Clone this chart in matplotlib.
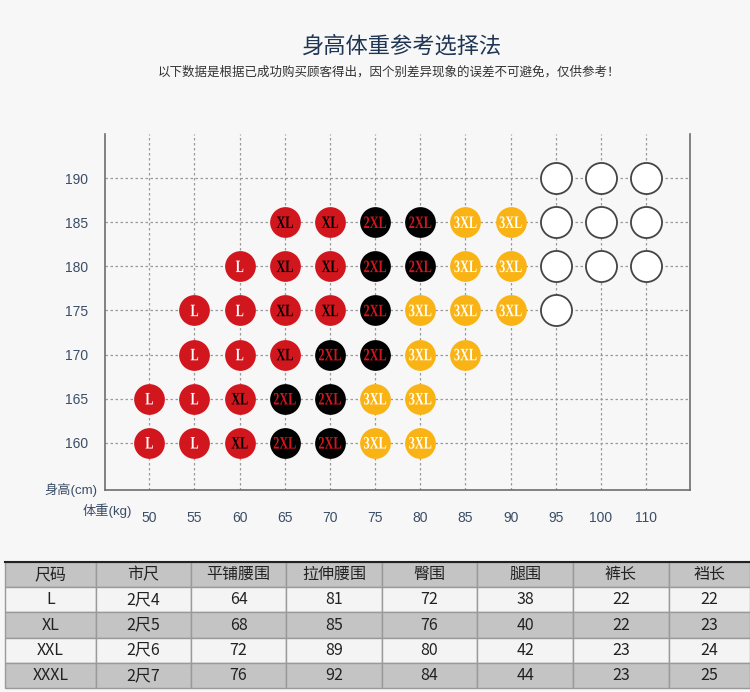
"""Size chart: height/weight bubble grid plus a measurement table."""

import matplotlib

matplotlib.use("Agg")
import matplotlib.pyplot as plt  # noqa: E402
from matplotlib import transforms as mtransforms  # noqa: E402
from matplotlib.font_manager import FontProperties  # noqa: E402
from matplotlib.patches import PathPatch  # noqa: E402
from matplotlib.textpath import TextPath  # noqa: E402

plt.rcParams["font.family"] = ["Liberation Sans", "Noto Sans CJK SC", "DejaVu Sans"]

# data
weights = ["50", "55", "60", "65", "70", "75", "80", "85", "90", "95", "100", "110"]
heights = ["160", "165", "170", "175", "180", "185", "190"]
# one row per height (bottom to top), one entry per weight; "O" = empty circle
size_grid = [
    ["L", "L", "XL", "2XL", "2XL", "3XL", "3XL", "", "", "", "", ""],
    ["L", "L", "XL", "2XL", "2XL", "3XL", "3XL", "", "", "", "", ""],
    ["", "L", "L", "XL", "2XL", "2XL", "3XL", "3XL", "", "", "", ""],
    ["", "L", "L", "XL", "XL", "2XL", "3XL", "3XL", "3XL", "O", "", ""],
    ["", "", "L", "XL", "XL", "2XL", "2XL", "3XL", "3XL", "O", "O", "O"],
    ["", "", "", "XL", "XL", "2XL", "2XL", "3XL", "3XL", "O", "O", "O"],
    ["", "", "", "", "", "", "", "", "", "O", "O", "O"],
]

table_header = ["尺码", "市尺", "平铺腰围", "拉伸腰围", "臀围", "腿围", "裤长", "裆长"]
table_sizes = ["L", "XL", "XXL", "XXXL"]
table_shichi = ["2尺4", "2尺5", "2尺6", "2尺7"]
flat_waist = [64, 68, 72, 76]
stretch_waist = [81, 85, 89, 92]
hip = [72, 76, 80, 84]
thigh = [38, 40, 42, 44]
pants_len = [22, 22, 23, 23]
rise = [22, 23, 24, 25]

# styles
BG = "#f7f7f7"
RED = "#d2161e"
YELLOW = "#f9b314"
TICK = "#3b4d66"
GRID = "#9a9a9a"
STYLE = {  # face, text colour, edge
    "L": (RED, "white", RED),
    "XL": (RED, "black", RED),
    "2XL": ("black", RED, "black"),
    "3XL": (YELLOW, "white", YELLOW),
    "O": ("white", "white", "#444444"),
}
LABEL_FONT = FontProperties(family="Liberation Serif", weight="bold")

W, H = 750, 692
fig = plt.figure(figsize=(7.5, 6.92), dpi=100)
fig.patch.set_facecolor(BG)

fig.text(401 / W, 1 - 46 / H, "身高体重参考选择法", ha="center", va="center",
         fontsize=16, color="#1e3553", fontweight="medium",
         family=["Noto Sans CJK SC"])
fig.text(389 / W, 1 - 72 / H, "以下数据是根据已成功购买顾客得出，因个别差异现象的误差不可避免，仅供参考！",
         ha="center", va="center", fontsize=9, color="#333333",
         family=["Noto Sans CJK SC"])

# bubble grid
ax = fig.add_axes([105 / W, 1 - 490 / H, (690 - 105) / W, (490 - 134) / H])
ax.set_facecolor(BG)
ax.set_xlim(-0.98, 11.97)
ax.set_ylim(-1.07, 7.0)

for i in range(len(weights)):
    ax.axvline(i, color=GRID, lw=0.9, ls=(0, (2, 2)), zorder=1)
for j in range(len(heights)):
    ax.axhline(j, color=GRID, lw=0.9, ls=(0, (2, 2)), zorder=1)


def circle_label(x, y, label, colour):
    # condensed serif label: text path squeezed horizontally, sized in pixels
    tp = TextPath((0, 0), label, size=17.5, prop=LABEL_FONT)
    bb = tp.get_extents()
    tr = (mtransforms.Affine2D()
          .translate(-(bb.x0 + bb.x1) / 2, -(bb.y0 + bb.y1) / 2)
          .scale(0.7, 1.0)
          + mtransforms.ScaledTranslation(x, y, ax.transData))
    ax.add_patch(PathPatch(tp, transform=tr, facecolor=colour, lw=0, zorder=4))


for j, row in enumerate(size_grid):
    for i, size in enumerate(row):
        if not size:
            continue
        face, txt, edge = STYLE[size]
        if size == "O":
            ax.scatter(i, j, s=500, color=face, edgecolors=edge, linewidths=1.3, zorder=3)
        else:
            ax.scatter(i, j, s=490, color=face, linewidths=0, zorder=3)
            circle_label(i, j, size, txt)

ax.set_xticks(range(len(weights)))
ax.set_xticklabels(weights)
ax.set_yticks(range(len(heights)))
ax.set_yticklabels(heights)
ax.tick_params(length=0, colors=TICK, labelsize=10)
ax.tick_params(axis="x", pad=15)
ax.tick_params(axis="y", pad=12)
ax.spines["top"].set_visible(False)
for side in ("left", "right", "bottom"):
    ax.spines[side].set_color("#6e6e6e")
    ax.spines[side].set_linewidth(1.2)

fig.text(71 / W, 1 - 490 / H, "身高(cm)", ha="center", va="center",
         fontsize=9.5, color=TICK)
fig.text(107 / W, 1 - 511 / H, "体重(kg)", ha="center", va="center",
         fontsize=9.5, color=TICK)

# measurement table
tax = fig.add_axes([5 / W, 1 - 688 / H, 745 / W, (688 - 562) / H])
tax.axis("off")
cells = [[s, c, str(a), str(b), str(h), str(t), str(p), str(r)]
         for s, c, a, b, h, t, p, r in zip(table_sizes, table_shichi, flat_waist,
                                           stretch_waist, hip, thigh, pants_len, rise)]
col_px = [91, 95, 95, 96, 95, 96, 96, 81]
col_w = [c / sum(col_px) for c in col_px]
row_colours = ["#f4f4f4", "#c4c4c4", "#f4f4f4", "#c4c4c4"]
tbl = tax.table(cellText=cells, colLabels=table_header, colWidths=col_w,
                cellLoc="center", bbox=[0, 0, 1, 1])
tbl.auto_set_font_size(False)
for (r, c), cell in tbl.get_celld().items():
    cell.set_edgecolor("#9a9a9a")
    cell.set_linewidth(1.0)
    cell.set_facecolor("#c4c4c4" if r == 0 else row_colours[r - 1])
    cell.get_text().set_fontsize(11.5)
    cell.get_text().set_color("#222222")
    cell.get_text().set_family(["Noto Sans CJK SC"])
tax.plot([0, 1], [1, 1], color="#222222", lw=1.5, transform=tax.transAxes,
         clip_on=False)

fig.savefig("out.png", dpi=100, facecolor=BG)
